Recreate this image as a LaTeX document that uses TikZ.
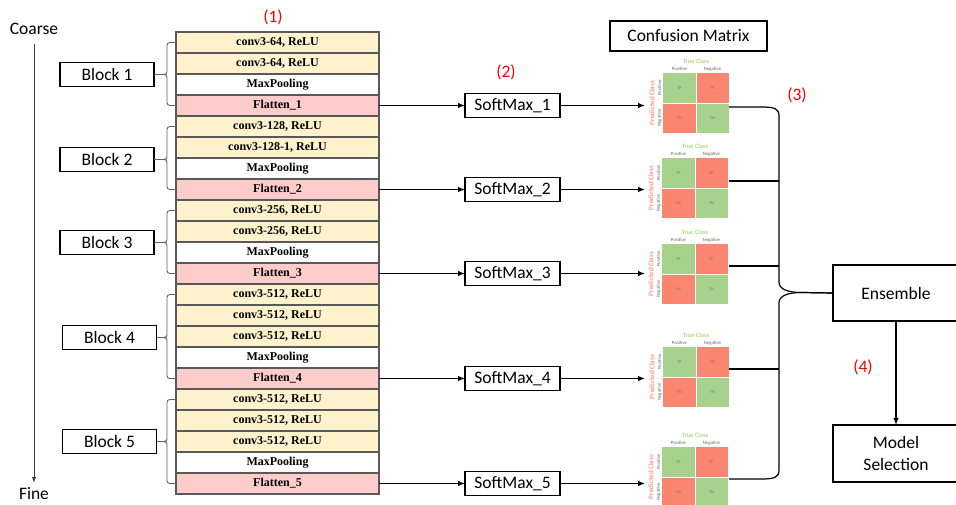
\documentclass[tikz,border=0pt]{standalone}
\usepackage{fontspec}
\setmainfont{Carlito}
\newfontfamily\layerfont{Liberation Serif}
\usetikzlibrary{arrows.meta,calc}
\definecolor{convc}{RGB}{255,242,204}
\definecolor{flatc}{RGB}{255,204,204}
\definecolor{edgec}{RGB}{89,89,89}
\definecolor{cmg}{RGB}{169,209,142}
\definecolor{cmr}{RGB}{250,133,112}
\definecolor{tcg}{RGB}{146,208,80}
\definecolor{pcr}{RGB}{245,120,100}
\definecolor{labred}{RGB}{255,0,0}
\newcommand\Lyr[3]{\node[#2] (L#1) at (277.5,{42.5+21*#1}) {#3};}
\newcommand\blockbrace[3]{%
 \draw[brc] let \p1=(#1.west), \p2=(#2.west), \p3=(#3.east) in
  (\p1) -- (\x1-6pt,\y1) .. controls (\x1-8pt,\y1) and (\x1-9pt,\y1-1pt) .. (\x1-9pt,\y1-3pt)
  -- (\x1-9pt,\y3+3pt) .. controls (\x1-9pt,\y3+1pt) and (\x1-10pt,\y3) .. (\x1-12pt,\y3)
  -- (\p3)
  (\x1-12pt,\y3) .. controls (\x1-10pt,\y3) and (\x1-9pt,\y3-1pt) .. (\x1-9pt,\y3-3pt)
  -- (\x2-9pt,\y2+3pt) .. controls (\x2-9pt,\y2+1pt) and (\x2-8pt,\y2) .. (\x2-6pt,\y2) -- (\p2);}
\newcommand\cmat[3]{%
 \begin{scope}[shift={(#2,#3)}]
  \node[minimum width=66pt, minimum height=60pt] (#1) at (0,0) {};
  \fill[cmg] (-33,-30) rectangle (0,0);
  \fill[cmr] (0,-30) rectangle (33,0);
  \fill[cmr] (-33,0) rectangle (0,30);
  \fill[cmg] (0,0) rectangle (33,30);
  \draw[white, line width=0.8pt] (-33,0) -- (33,0) (0,-30) -- (0,30);
  \node[cell] (#1tp) at (-16.5,-15) {TP};
  \node[cell] (#1fp) at (16.5,-15) {FP};
  \node[cell] (#1fn) at (-16.5,15) {FN};
  \node[cell] (#1tn) at (16.5,15) {TN};
  \node[tc] (#1tc) at (0,-42) {True Class};
  \node[ax] (#1cp) at (-16.5,-34) {Positive};
  \node[ax] (#1cn) at (16.5,-34) {Negative};
  \node[pc, rotate=90] (#1pc) at (-44,0) {Predicted Class};
  \node[ax, rotate=90] (#1rp) at (-36.5,-15) {Positive};
  \node[ax, rotate=90] (#1rn) at (-36.5,15) {Negative};
 \end{scope}}
\begin{document}
\begin{tikzpicture}[x=1pt,y=-1pt,
 every node/.style={inner sep=0pt, outer sep=0pt},
 layer/.style={draw=edgec, line width=1.2pt, minimum width=203pt, minimum height=21pt, font=\layerfont\bfseries\fontsize{12}{14}\selectfont},
 conv/.style={layer, fill=convc},
 pool/.style={layer, fill=white},
 flat/.style={layer, fill=flatc},
 blk/.style={draw=black, line width=1.3pt, minimum width=94pt, minimum height=24pt, font=\fontsize{17.5}{20}\selectfont},
 smx/.style={draw=black, line width=1.3pt, minimum width=95pt, minimum height=24pt, font=\fontsize{17.5}{20}\selectfont},
 bigbox/.style={draw=black, line width=1.3pt, minimum width=126pt, font=\fontsize{17.5}{22}\selectfont, align=center},
 lab/.style={text=labred, font=\fontsize{17.5}{20}\selectfont},
 plain/.style={font=\fontsize{17.5}{20}\selectfont},
 arr/.style={draw=black, line width=1.2pt, -{Latex[length=7pt,width=5.5pt]}},
 wire/.style={draw=black, line width=1.2pt},
 brc/.style={draw=gray!75!black, line width=0.9pt},
 cell/.style={text=black!55, font=\fontsize{4}{5}\selectfont},
 tc/.style={text=tcg, font=\fontsize{6.5}{7}\selectfont},
 pc/.style={text=pcr, font=\fontsize{7.2}{8}\selectfont},
 ax/.style={text=black!60, font=\fontsize{4.8}{5}\selectfont},
]
\useasboundingbox (0,0) rectangle (956,504);
\fill[white] (0,0) rectangle (956,504);

% layers
\Lyr{0}{conv}{conv3-64, ReLU}
\Lyr{1}{conv}{conv3-64, ReLU}
\Lyr{2}{pool}{MaxPooling}
\Lyr{3}{flat}{Flatten\_1}
\Lyr{4}{conv}{conv3-128, ReLU}
\Lyr{5}{conv}{conv3-128-1, ReLU}
\Lyr{6}{pool}{MaxPooling}
\Lyr{7}{flat}{Flatten\_2}
\Lyr{8}{conv}{conv3-256, ReLU}
\Lyr{9}{conv}{conv3-256, ReLU}
\Lyr{10}{pool}{MaxPooling}
\Lyr{11}{flat}{Flatten\_3}
\Lyr{12}{conv}{conv3-512, ReLU}
\Lyr{13}{conv}{conv3-512, ReLU}
\Lyr{14}{conv}{conv3-512, ReLU}
\Lyr{15}{pool}{MaxPooling}
\Lyr{16}{flat}{Flatten\_4}
\Lyr{17}{conv}{conv3-512, ReLU}
\Lyr{18}{conv}{conv3-512, ReLU}
\Lyr{19}{conv}{conv3-512, ReLU}
\Lyr{20}{pool}{MaxPooling}
\Lyr{21}{flat}{Flatten\_5}

% blocks
\node[blk] (B1) at (107,74.5) {Block 1};
\node[blk] (B2) at (107,159.5) {Block 2};
\node[blk] (B3) at (107,242.5) {Block 3};
\node[blk] (B4) at (109.5,337.5) {Block 4};
\node[blk] (B5) at (109.5,441.5) {Block 5};
\blockbrace{L0}{L3}{B1}
\blockbrace{L4}{L7}{B2}
\blockbrace{L8}{L11}{B3}
\blockbrace{L12}{L16}{B4}
\blockbrace{L17}{L21}{B5}

% coarse / fine
\node[plain] (coarse) at (34,29) {Coarse};
\node[plain] (fine) at (34,494) {Fine};
\draw[draw=black!75, line width=1pt, -{Latex[length=6pt,width=4.5pt]}, shorten <=9pt, shorten >=5pt] (coarse.south) -- (fine.north);

% labels
\node[lab] (n1) at (273,17) {(1)};
\node[lab] (n2) at (506,72) {(2)};
\node[lab] (n3) at (797,95) {(3)};
\node[lab] (n4) at (863,367) {(4)};

% softmax
\node[smx] (S1) at (512.5,105.5) {SoftMax\_1};
\node[smx] (S2) at (512.5,189.5) {SoftMax\_2};
\node[smx] (S3) at (512.5,273.5) {SoftMax\_3};
\node[smx] (S4) at (512.5,378.5) {SoftMax\_4};
\node[smx] (S5) at (512.5,483.5) {SoftMax\_5};
\draw[arr] (L3.east) -- (S1.west);
\draw[arr] (L7.east) -- (S2.west);
\draw[arr] (L11.east) -- (S3.west);
\draw[arr] (L16.east) -- (S4.west);
\draw[arr] (L21.east) -- (S5.west);

% confusion matrices
\node[draw=black, line width=1.3pt, minimum width=157pt, minimum height=30pt, font=\fontsize{17.5}{20}\selectfont] (CM) at (688.5,36) {Confusion Matrix};
\cmat{M1}{696}{103}
\cmat{M2}{695}{188}
\cmat{M3}{695}{274}
\cmat{M4}{696}{377}
\cmat{M5}{695}{477}
\coordinate (a1) at (645,105.5);
\coordinate (a2) at (645,189.5);
\coordinate (a3) at (645,273.5);
\coordinate (a4) at (645,378.5);
\coordinate (a5) at (645,483.5);
\draw[arr] (S1.east) -- (a1);
\draw[arr] (S2.east) -- (a2);
\draw[arr] (S3.east) -- (a3);
\draw[arr] (S4.east) -- (a4);
\draw[arr] (S5.east) -- (a5);

% ensemble
\node[bigbox, minimum height=56pt] (E) at (896,293) {Ensemble};
\node[bigbox, minimum height=57pt] (MS) at (896,453.5) {Model\\Selection};
\draw[arr] (E.south) -- (MS.north);

\coordinate (o1) at (729,107);
\coordinate (o2) at (729,181);
\coordinate (o3) at (729,266);
\coordinate (o4) at (729,369);
\coordinate (o5) at (729,479);
\coordinate (jx) at (779,300);
\draw[wire] (o1) -- (762,107) .. controls (775,107) and (779,109) .. (779,116) -- (779,282) .. controls (779,289) and (787,292.5) .. (802,292.5) -- (E.west);
\draw[wire] (E.west) -- (802,292.5) .. controls (787,292.5) and (779,296) .. (779,303) -- (779,470) .. controls (779,477) and (775,479) .. (762,479) -- (o5);
\draw[wire] (o2) -- (o2 -| jx);
\draw[wire] (o3) -- (o3 -| jx);
\draw[wire] (o4) -- (o4 -| jx);
\end{tikzpicture}
\end{document}
